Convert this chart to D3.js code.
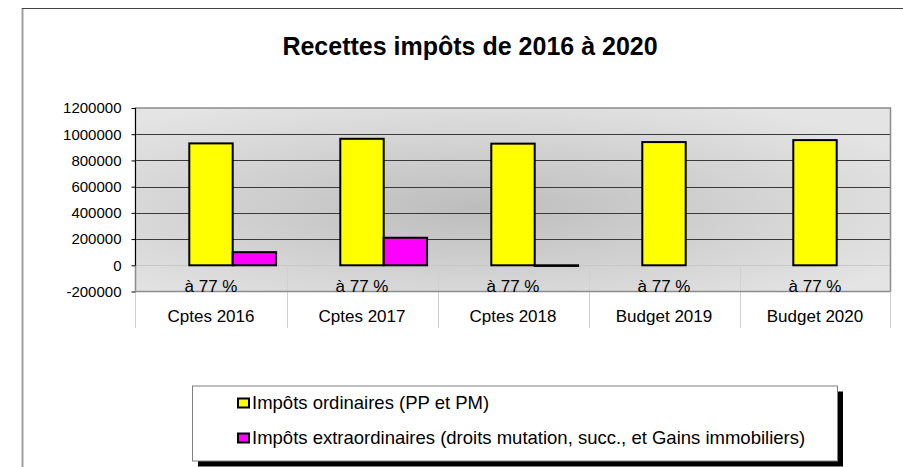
<!DOCTYPE html>
<html>
<head>
<meta charset="utf-8">
<script src="https://cdn.jsdelivr.net/npm/d3@7"></script>
<style>
  body { margin: 0; background: #fff; }
  text { font-family: "Liberation Sans", Arial, sans-serif; fill: #000; }
</style>
</head>
<body>
<div id="chart-area"></div>
<script>
// data
const categories = ["Cptes 2016", "Cptes 2017", "Cptes 2018", "Budget 2019", "Budget 2020"]
const ordinaires = [930000, 965000, 928000, 940000, 955000]
const extraordinaires = [100000, 210000, -5000, 0, 0]
const pctLabels = ["à 77 %", "à 77 %", "à 77 %", "à 77 %", "à 77 %"]
const yTicks = [-200000, 0, 200000, 400000, 600000, 800000, 1000000, 1200000]
const seriesNames = ["Impôts ordinaires (PP et PM)", "Impôts extraordinaires (droits mutation, succ., et Gains immobiliers)"]
const seriesColors = ["#ffff00", "#ff00ff"]

const W = 903, H = 467
const PLOT = { LEFT: 135.5, RIGHT: 890.5, TOP: 108, BOTTOM: 291.5 }

const svg = d3.select("#chart-area").append("svg")
  .attr("width", W)
  .attr("height", H)

// background gradient of plot area
const defs = svg.append("defs")
const grad = defs.append("radialGradient")
  .attr("id", "plotbg")
  .attr("cx", "45%").attr("cy", "55%").attr("r", "65%")
grad.append("stop").attr("offset", "0%").attr("stop-color", "#bdbdbd")
grad.append("stop").attr("offset", "100%").attr("stop-color", "#e4e4e4")

// outer chart frame
svg.append("line")
  .attr("x1", 22.5).attr("x2", 22.5).attr("y1", 8).attr("y2", H)
  .attr("stroke", "#a0a0a0").attr("stroke-width", 2)
svg.append("line")
  .attr("x1", 22).attr("x2", W).attr("y1", 8.5).attr("y2", 8.5)
  .attr("stroke", "#444").attr("stroke-width", 1)

// title
svg.append("text")
  .attr("x", 470).attr("y", 55)
  .attr("text-anchor", "middle")
  .style("font-size", "25px")
  .style("font-weight", "bold")
  .text("Recettes impôts de 2016 à 2020")

// scales
const x0 = d3.scaleBand()
  .domain(categories)
  .range([PLOT.LEFT, PLOT.RIGHT])
  .paddingInner(0).paddingOuter(0)

// third slot holds the percentage label series
const x1 = d3.scaleBand()
  .domain(["pct", "ord", "extra"])
  .range([0, x0.bandwidth()])
  .paddingInner(0).paddingOuter(0.24)

const y = d3.scaleLinear()
  .domain([-200000, 1200000])
  .range([PLOT.BOTTOM, PLOT.TOP])

// plot background
svg.append("rect")
  .attr("x", PLOT.LEFT).attr("y", PLOT.TOP)
  .attr("width", PLOT.RIGHT - PLOT.LEFT)
  .attr("height", PLOT.BOTTOM - PLOT.TOP)
  .attr("fill", "url(#plotbg)")

// gridlines
svg.append("g")
  .selectAll("line")
  .data(yTicks.filter(d => d > 0 && d < 1200000))
  .join("line")
  .attr("x1", PLOT.LEFT).attr("x2", PLOT.RIGHT)
  .attr("y1", d => Math.round(y(d)) + 0.5).attr("y2", d => Math.round(y(d)) + 0.5)
  .attr("stroke", "#3a3a3a")

// zero line
svg.append("line")
  .attr("x1", PLOT.LEFT).attr("x2", PLOT.RIGHT)
  .attr("y1", Math.round(y(0)) + 0.5).attr("y2", Math.round(y(0)) + 0.5)
  .attr("stroke", "#c8c8c8")

// category separators (from zero line down past the axis)
svg.append("g")
  .selectAll("line")
  .data(categories.slice(1))
  .join("line")
  .attr("x1", d => Math.round(x0(d)) + 0.5).attr("x2", d => Math.round(x0(d)) + 0.5)
  .attr("y1", y(0)).attr("y2", 328)
  .attr("stroke", "#d0d0d0")

// plot border
svg.append("rect")
  .attr("x", PLOT.LEFT).attr("y", PLOT.TOP)
  .attr("width", PLOT.RIGHT - PLOT.LEFT)
  .attr("height", PLOT.BOTTOM - PLOT.TOP)
  .attr("fill", "none")
  .attr("stroke", "#8c8c8c")
  .attr("stroke-width", 1.5)

// side lines continuing under the axis band
svg.append("g")
  .selectAll("line")
  .data([PLOT.LEFT, PLOT.RIGHT])
  .join("line")
  .attr("x1", d => d).attr("x2", d => d)
  .attr("y1", PLOT.BOTTOM).attr("y2", 328)
  .attr("stroke", "#d0d0d0")

// y axis
const yAxis = svg.append("g")
  .attr("transform", `translate(${PLOT.LEFT}, 0)`)
  .call(d3.axisLeft(y).tickValues(yTicks).tickSize(4).tickPadding(10).tickFormat(d => d + ""))
yAxis.select(".domain").remove()
yAxis.selectAll(".tick line").attr("stroke", "#000")
yAxis.selectAll(".tick text")
  .style("font-size", "15px")
  .style("font-family", "'Liberation Sans', Arial, sans-serif")
  .attr("fill", "#000")
svg.append("line")
  .attr("x1", PLOT.LEFT).attr("x2", PLOT.LEFT)
  .attr("y1", PLOT.TOP).attr("y2", y(0))
  .attr("stroke", "#000")

// bars
const groups = svg.append("g")
  .selectAll("g")
  .data(categories.map((c, i) => ({ cat: c, vals: [
    { key: "ord", v: ordinaires[i], color: seriesColors[0] },
    { key: "extra", v: extraordinaires[i], color: seriesColors[1] }
  ] })))
  .join("g")
  .attr("transform", d => `translate(${x0(d.cat)}, 0)`)

groups.selectAll("rect")
  .data(d => d.vals.filter(b => b.v !== 0))
  .join("rect")
  .attr("x", b => x1(b.key))
  .attr("width", x1.bandwidth())
  .attr("y", b => y(Math.max(0, b.v)))
  .attr("height", b => Math.abs(y(b.v) - y(0)))
  .attr("fill", b => b.color)
  .attr("stroke", "#000")
  .attr("stroke-width", 2)

// percentage labels
svg.append("g")
  .selectAll("text")
  .data(categories)
  .join("text")
  .attr("x", d => x0(d) + x0.bandwidth() / 2)
  .attr("y", 292)
  .attr("text-anchor", "middle")
  .style("font-size", "17px")
  .text((d, i) => pctLabels[i])

// category labels
svg.append("g")
  .selectAll("text")
  .data(categories)
  .join("text")
  .attr("x", d => x0(d) + x0.bandwidth() / 2)
  .attr("y", 322)
  .attr("text-anchor", "middle")
  .style("font-size", "17px")
  .text(d => d)

// legend
const LEG = { X: 192, Y: 385.5, W: 645, H: 75 }
svg.append("rect")
  .attr("x", LEG.X + 6).attr("y", LEG.Y + 6)
  .attr("width", LEG.W).attr("height", LEG.H)
  .attr("fill", "#000")
svg.append("rect")
  .attr("x", LEG.X + 0.5).attr("y", LEG.Y + 0.5)
  .attr("width", LEG.W).attr("height", LEG.H)
  .attr("fill", "#fff")
  .attr("stroke", "#808080")

const legItems = svg.append("g")
  .selectAll("g")
  .data(seriesNames)
  .join("g")
  .attr("transform", (d, i) => `translate(${LEG.X + 46}, ${LEG.Y + 17 + i * 35})`)
legItems.append("rect")
  .attr("x", 0).attr("y", -4)
  .attr("width", 11).attr("height", 9)
  .attr("fill", (d, i) => seriesColors[i])
  .attr("stroke", "#000")
  .attr("stroke-width", 2)
legItems.append("text")
  .attr("x", 14).attr("dy", "0.35em")
  .style("font-size", "18.5px")
  .text(d => d)
</script>
</body>
</html>
